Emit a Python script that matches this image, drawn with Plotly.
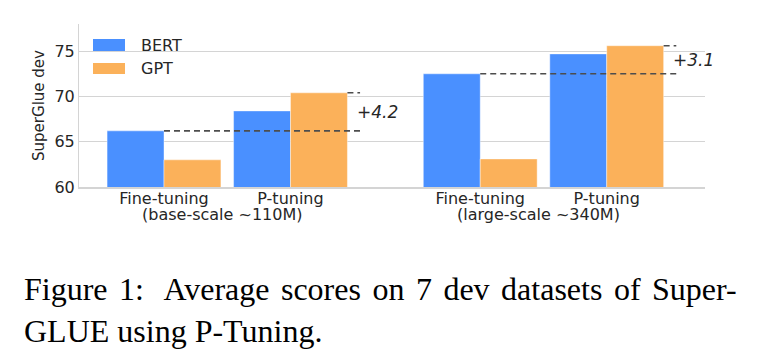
import plotly.graph_objects as go

# ---- data ----
groups = ["Fine-tuning", "P-tuning", "Fine-tuning", "P-tuning"]
group_pos = [0.0, 1.0, 2.5, 3.5]
scale_labels = ["(base-scale ~110M)", "(large-scale ~340M)"]
bert = [66.2, 68.4, 72.5, 74.7]
gpt = [63.0, 70.4, 63.1, 75.6]
gain_labels = ["+4.2", "+3.1"]
series_names = ["BERT", "GPT"]
y_ticks = [60, 65, 70, 75]
caption_line1_words = ["Figure", "1:", "Average", "scores", "on", "7", "dev", "datasets", "of", "Super-"]
caption_line2 = "GLUE using P-Tuning."

BLUE = "#4a90ff"
ORANGE = "#fbb15a"
TXT = "#262626"
GRID = "#d4d4d4"
FONT = "DejaVu Sans"

W, H = 761, 349
ML, MR, MT, MB = 79, 56, 24, 162
PW = W - ML - MR
PH = H - MT - MB

BW = 0.45

fig = go.Figure()
fig.add_trace(go.Bar(x=group_pos, y=bert, name=series_names[0], width=BW, offset=-BW,
                     marker=dict(color=BLUE, line=dict(color="rgba(255,255,255,0.7)", width=0.6)),
                     showlegend=False))
fig.add_trace(go.Bar(x=group_pos, y=gpt, name=series_names[1], width=BW, offset=0,
                     marker=dict(color=ORANGE, line=dict(color="rgba(255,255,255,0.7)", width=0.6)),
                     showlegend=False))

shapes = []
annotations = []
dash_style = dict(color="#4d4d4d", width=1.6, dash="6px,4px")
for k, (ft, pt) in enumerate([(0, 1), (2, 3)]):
    base = bert[ft]
    top = gpt[pt]
    xs = group_pos[ft]
    xe = group_pos[pt] + 0.55
    shapes.append(dict(type="line", xref="x", yref="y", x0=xs, x1=xe, y0=base, y1=base,
                       line=dash_style, layer="above"))
    shapes.append(dict(type="line", xref="x", yref="y", x0=group_pos[pt] + BW, x1=xe,
                       y0=top, y1=top, line=dash_style, layer="above"))
    annotations.append(dict(x=group_pos[pt] + 0.51, y=(base + top) / 2, xref="x", yref="y",
                            text=gain_labels[k], showarrow=False, xanchor="left", yanchor="middle",
                            font=dict(family=FONT, size=17, color=TXT, style="italic")))

def px_x(x):
    return (x - ML) / PW

def px_y(y):
    return (MT + PH - y) / PH

# scale labels (second line under the tick labels)
for k, (a, b) in enumerate([(0, 1), (2, 3)]):
    annotations.append(dict(x=(group_pos[a] + group_pos[b]) / 2 - 0.04, y=px_y(215),
                            xref="x", yref="paper", text=scale_labels[k], showarrow=False,
                            xanchor="center", yanchor="middle",
                            font=dict(family=FONT, size=16, color=TXT)))

# legend drawn manually
leg = [(series_names[0], BLUE, 39, 51), (series_names[1], ORANGE, 63, 74)]
for name, col, y0, y1 in leg:
    shapes.append(dict(type="rect", xref="paper", yref="paper", x0=px_x(93), x1=px_x(125),
                       y0=px_y(y1), y1=px_y(y0), fillcolor=col, line=dict(width=0)))
    annotations.append(dict(x=px_x(139), y=px_y((y0 + y1) / 2), xref="paper", yref="paper",
                            text=name, showarrow=False, xanchor="left", yanchor="middle",
                            font=dict(family=FONT, size=16, color=TXT)))

# caption (justified first line imitated with wider spaces)
wide_space = '<span style="font-size:46px">&nbsp;</span>'
line1 = caption_line1_words[0] + wide_space + caption_line1_words[1] + "&nbsp;" + wide_space
line1 += wide_space.join(caption_line1_words[2:])
annotations.append(dict(x=px_x(22), y=px_y(304), xref="paper", yref="paper",
                        text=line1 + "<br>" + caption_line2,
                        showarrow=False, xanchor="left", yanchor="middle", align="left",
                        font=dict(family="Liberation Serif", size=32, color="#000000")))

fig.update_layout(
    width=W, height=H,
    margin=dict(l=ML, r=MR, t=MT, b=MB, pad=0),
    paper_bgcolor="white", plot_bgcolor="white",
    barmode="overlay",
    shapes=shapes, annotations=annotations,
    font=dict(family=FONT, size=16, color=TXT),
    xaxis=dict(range=[-0.672, 4.277], tickvals=group_pos, ticktext=groups,
               showgrid=False, zeroline=False, showline=True, linecolor=GRID, linewidth=2,
               ticks="", ticklabelstandoff=-4,
               tickfont=dict(family=FONT, size=16, color=TXT), fixedrange=True),
    yaxis=dict(range=[60, 78], tickvals=y_ticks, showgrid=True, gridcolor=GRID, gridwidth=1,
               zeroline=False, showline=True, linecolor=GRID, linewidth=1, ticks="",
               tickfont=dict(family=FONT, size=16, color=TXT),
               title=dict(text="SuperGlue dev", font=dict(family=FONT, size=15, color=TXT), standoff=6),
               automargin=False),
)

fig.write_html("out.html")
